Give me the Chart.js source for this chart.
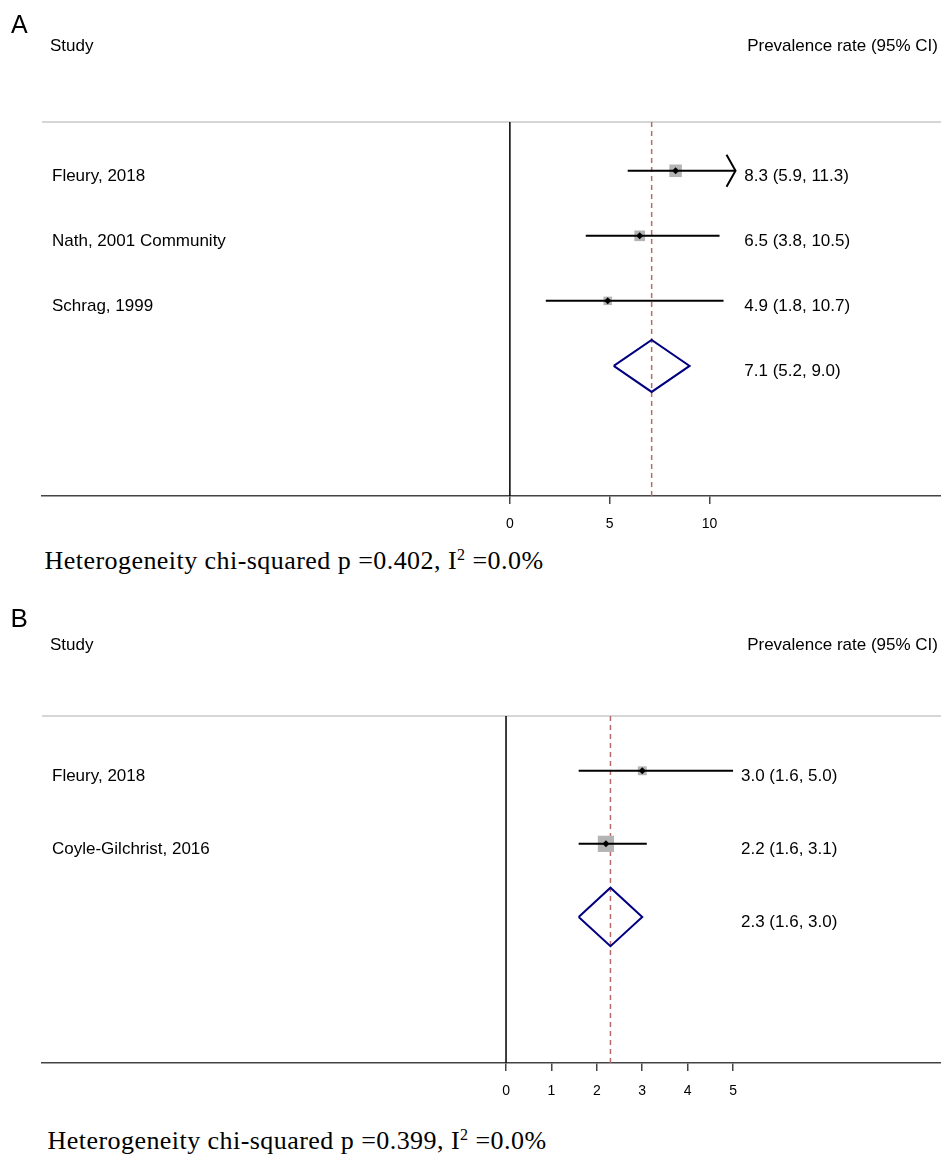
<!DOCTYPE html>
<html>
<head>
<meta charset="utf-8">
<script src="https://cdn.jsdelivr.net/npm/chart.js@4.4.1/dist/chart.umd.min.js"></script>
<style>
  body { margin: 0; background: #fff; }
  #wrap { position: relative; width: 941px; height: 1157px; overflow: hidden; }
  canvas { position: absolute; left: 0; }
  .t { position: absolute; font-family: "Liberation Sans", Arial, sans-serif; line-height: 1; white-space: nowrap; color: #000; }
  .het { position: absolute; font-family: "Liberation Serif", "Times New Roman", serif; font-size: 26px; line-height: 26px; letter-spacing: 0.45px; white-space: nowrap; color: #000; }
  .het sup { font-size: 16px; position: relative; top: -9px; vertical-align: baseline; line-height: 0; }
</style>
</head>
<body>
<div id="wrap">
  <canvas id="forestA" width="941" height="540" style="top:0px"></canvas>
  <canvas id="forestB" width="941" height="527" style="top:580px"></canvas>

  <div class="t" style="left:11px; top:12px; font-size:25px;">A</div>
  <div class="t" style="left:50px; top:36.6px; font-size:17px;">Study</div>
  <div class="t" style="right:3px; top:36.6px; font-size:17px;">Prevalence rate (95% CI)</div>
  <div class="het" style="left:44.5px; top:548px;">Heterogeneity chi-squared p =0.402, I<sup>2</sup> =0.0%</div>

  <div class="t" style="left:10.5px; top:605px; font-size:26px;">B</div>
  <div class="t" style="left:50px; top:635.6px; font-size:17px;">Study</div>
  <div class="t" style="right:3px; top:635.6px; font-size:17px;">Prevalence rate (95% CI)</div>
  <div class="het" style="left:47.5px; top:1128px;">Heterogeneity chi-squared p =0.399, I<sup>2</sup> =0.0%</div>
</div>

<script>
// ---- panel A: three studies ----
const studiesA = ["Fleury, 2018", "Nath, 2001 Community", "Schrag, 1999"];
const estA = [8.3, 6.5, 4.9];
const lowerA = [5.9, 3.8, 1.8];
const upperA = [11.3, 10.5, 10.7];
const weightsA = [46, 33, 21];      // % weight, sets box size
const pooledA = [7.1, 5.2, 9.0];    // estimate, lower, upper
const ticksA = [0, 5, 10];
const clipA = 11.3;                 // CIs reaching this get an arrow

// ---- panel B: two studies ----
const studiesB = ["Fleury, 2018", "Coyle-Gilchrist, 2016"];
const estB = [3.0, 2.2];
const lowerB = [1.6, 1.6];
const upperB = [5.0, 3.1];
const weightsB = [23, 77];
const pooledB = [2.3, 1.6, 3.0];
const ticksB = [0, 1, 2, 3, 4, 5];
const clipB = Infinity;

const FONT = '"Liberation Sans", Arial, sans-serif';
const BOX_K = 1.85;      // box side = BOX_K * sqrt(weight)
const DIAMOND_H = 0.4;   // half height of pooled diamond, in rows

const fmt = (e, l, u) => `${e.toFixed(1)} (${l.toFixed(1)}, ${u.toFixed(1)})`;

// labels, top rule and clipped-CI arrows
const forestText = {
  id: "forestText",
  beforeDatasetsDraw(chart) {
    const { ctx, chartArea } = chart;
    ctx.save();
    ctx.strokeStyle = "#c8c8c8";
    ctx.lineWidth = 1.5;
    ctx.beginPath();
    ctx.moveTo(chartArea.left, chartArea.top);
    ctx.lineTo(chartArea.right, chartArea.top);
    ctx.stroke();
    ctx.restore();
  },
  afterDatasetsDraw(chart, args, opts) {
    const { ctx, scales: { x, y } } = chart;
    const p = opts.panel;
    ctx.save();
    ctx.font = "17px " + FONT;
    ctx.fillStyle = "#000";
    ctx.textBaseline = "alphabetic";
    ctx.textAlign = "left";
    p.studies.forEach((s, i) => {
      const py = y.getPixelForValue(i + 1);
      ctx.fillText(s, 52, py + 10.5);
      ctx.fillText(fmt(p.est[i], p.lower[i], p.upper[i]), p.valueX, py + 10.5);
      if (p.upper[i] >= p.clip) {
        const px = x.getPixelForValue(p.clip);
        ctx.strokeStyle = "#000";
        ctx.lineWidth = 2;
        ctx.beginPath();
        ctx.moveTo(px - 9, py - 16);
        ctx.lineTo(px, py);
        ctx.lineTo(px - 9, py + 16);
        ctx.stroke();
      }
    });
    const poolY = y.getPixelForValue(p.studies.length + 1);
    ctx.fillText(fmt(p.pooled[0], p.pooled[1], p.pooled[2]), p.valueX, poolY + 10.5);
    ctx.restore();
  }
};

function forest(id, p) {
  const n = p.studies.length;
  const rows = p.studies.map((s, i) => i + 1);
  const poolRow = n + 1;
  const yMin = 0.25, yMax = n + 3;
  const [pe, pl, pu] = p.pooled;

  const datasets = [
    { // line of no effect
      data: [{ x: 0, y: yMin }, { x: 0, y: yMax }],
      showLine: true, borderColor: "#000", borderWidth: 1.5, pointRadius: 0, order: 5
    },
    { // pooled estimate reference
      data: [{ x: pe, y: yMin }, { x: pe, y: yMax }],
      showLine: true, borderColor: "#b86a6a", borderWidth: 1.5, borderDash: [5, 4],
      pointRadius: 0, order: 4
    },
    { // weight boxes
      data: rows.map((r, i) => ({ x: p.est[i], y: r })),
      pointStyle: "rect",
      pointRadius: p.weights.map(w => BOX_K * Math.sqrt(w) / Math.SQRT2),
      backgroundColor: "#b4b4b4", borderWidth: 0, order: 3
    },
    { // point estimates
      data: rows.map((r, i) => ({ x: p.est[i], y: r })),
      pointStyle: "rectRot", pointRadius: 3.5,
      backgroundColor: "#000", borderWidth: 0, order: 1
    },
    { // pooled diamond
      data: [
        { x: pl, y: poolRow }, { x: pe, y: poolRow - DIAMOND_H },
        { x: pu, y: poolRow }, { x: pe, y: poolRow + DIAMOND_H },
        { x: pl, y: poolRow }
      ],
      showLine: true, borderColor: "#000080", borderWidth: 2, borderJoinStyle: "miter",
      pointRadius: 0, fill: false, order: 2
    }
  ];
  // confidence intervals
  rows.forEach((r, i) => {
    datasets.push({
      data: [{ x: p.lower[i], y: r }, { x: Math.min(p.upper[i], p.clip), y: r }],
      showLine: true, borderColor: "#000", borderWidth: 2, pointRadius: 0, order: 2
    });
  });

  return new Chart(document.getElementById(id), {
    type: "scatter",
    data: { datasets },
    plugins: [forestText],
    options: {
      responsive: false,
      animation: false,
      events: [],
      layout: { autoPadding: false, padding: { left: 42, right: 0, top: p.padTop, bottom: 0 } },
      plugins: {
        legend: { display: false },
        tooltip: { enabled: false },
        forestText: { panel: p }
      },
      scales: {
        x: {
          type: "linear",
          min: p.xMin,
          max: p.xMax,
          afterBuildTicks: s => { s.ticks = p.ticks.map(v => ({ value: v })); },
          afterFit: s => { s.height = 44; s.paddingLeft = 0; s.paddingRight = 0; },
          grid: { display: true, drawOnChartArea: false, drawTicks: true, tickLength: 8, color: "#444", lineWidth: 1.5 },
          border: { display: true, color: "#444", width: 1.5 },
          ticks: { color: "#000", font: { family: FONT, size: 14 }, padding: 12, maxRotation: 0, autoSkip: false }
        },
        y: { type: "linear", reverse: true, min: yMin, max: yMax, display: false }
      }
    }
  });
}

forest("forestA", {
  studies: studiesA, est: estA, lower: lowerA, upper: upperA, weights: weightsA,
  pooled: pooledA, ticks: ticksA, clip: clipA,
  xMin: -23.43, xMax: 21.59, padTop: 122, valueX: 744.3
});

forest("forestB", {
  studies: studiesB, est: estB, lower: lowerB, upper: upperB, weights: weightsB,
  pooled: pooledB, ticks: ticksB, clip: clipB,
  xMin: -10.22, xMax: 9.58, padTop: 136, valueX: 741
});
</script>
</body>
</html>
